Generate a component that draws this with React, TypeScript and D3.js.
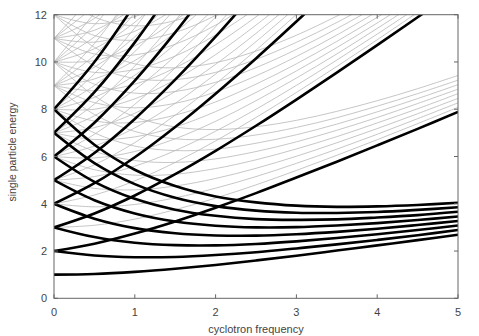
import React from "react";
import * as d3 from "d3";

// cyclotron frequency sample points
const freqs = [0, 0.5, 1, 1.5, 2, 2.5, 3, 3.5, 4, 4.5, 5];
const xTicks = [0, 1, 2, 3, 4, 5];
const yTicks = [0, 2, 4, 6, 8, 10, 12];

// lowest radial level (thick lines), energies read at the sample frequencies
const thickLevels: number[][] = [
  [1, 1.03, 1.12, 1.25, 1.41, 1.6, 1.8, 2.02, 2.24, 2.46, 2.69],
  [2, 1.81, 1.74, 1.75, 1.83, 1.95, 2.11, 2.28, 2.47, 2.67, 2.89],
  [3, 2.59, 2.35, 2.25, 2.24, 2.3, 2.41, 2.55, 2.71, 2.89, 3.08],
  [4, 3.37, 2.97, 2.75, 2.66, 2.65, 2.71, 2.81, 2.94, 3.1, 3.27],
  [5, 4.15, 3.59, 3.25, 3.07, 3.0, 3.01, 3.08, 3.18, 3.31, 3.46],
  [6, 4.93, 4.21, 3.75, 3.49, 3.35, 3.32, 3.34, 3.42, 3.52, 3.66],
  [7, 5.72, 4.83, 4.25, 3.9, 3.71, 3.62, 3.61, 3.65, 3.74, 3.85],
  [8, 6.5, 5.44, 4.75, 4.31, 4.06, 3.92, 3.87, 3.89, 3.95, 4.04],
  [2, 2.31, 2.74, 3.25, 3.83, 4.45, 5.11, 5.78, 6.47, 7.17, 7.89],
  [3, 3.59, 4.35, 5.25, 6.24, 7.3, 8.41, 9.55, 10.71, 11.89, 13.08],
  [4, 4.87, 5.97, 7.25, 8.66, 10.15, 11.71, 13.31],
  [5, 6.15, 7.59, 9.25, 11.07, 13.0],
  [6, 7.43, 9.21, 11.25, 13.49],
  [7, 8.72, 10.83, 13.25],
  [8, 10.0, 12.44],
];

// second radial level (thin grey)
const greyLevel1: number[][] = [
  [3, 3.09, 3.35, 3.75, 4.24, 4.8, 5.41, 6.05, 6.71, 7.39, 8.08],
  [4, 3.87, 3.97, 4.25, 4.66, 5.15, 5.71, 6.31, 6.94, 7.6, 8.27],
  [5, 4.65, 4.59, 4.75, 5.07, 5.5, 6.01, 6.58, 7.18, 7.81, 8.46],
  [6, 5.44, 5.21, 5.25, 5.49, 5.86, 6.32, 6.84, 7.42, 8.02, 8.66],
  [7, 6.22, 5.83, 5.75, 5.9, 6.21, 6.62, 7.11, 7.65, 8.24, 8.85],
  [8, 7.0, 6.44, 6.25, 6.31, 6.56, 6.92, 7.37, 7.89, 8.45, 9.04],
  [9, 7.78, 7.06, 6.75, 6.73, 6.91, 7.23, 7.64, 8.13, 8.66, 9.23],
  [10, 8.56, 7.68, 7.25, 7.14, 7.26, 7.53, 7.91, 8.36, 8.87, 9.43],
  [4, 4.37, 4.97, 5.75, 6.66, 7.65, 8.71, 9.81, 10.94, 12.1],
  [5, 5.65, 6.59, 7.75, 9.07, 10.5, 12.01],
  [6, 6.94, 8.21, 9.75, 11.49, 13.36],
  [7, 8.22, 9.83, 11.75, 13.9],
  [8, 9.5, 11.44, 13.75],
  [9, 10.78, 13.06],
  [10, 12.06],
];

// third radial level
const greyLevel2: number[][] = [
  [5, 5.15, 5.59, 6.25, 7.07, 8.0, 9.01, 10.08, 11.18, 12.31],
  [6, 5.94, 6.21, 6.75, 7.49, 8.36, 9.32, 10.34, 11.42, 12.52],
  [7, 6.72, 6.83, 7.25, 7.9, 8.71, 9.62, 10.61, 11.65, 12.74],
  [8, 7.5, 7.44, 7.75, 8.31, 9.06, 9.92, 10.87, 11.89, 12.95],
  [9, 8.28, 8.06, 8.25, 8.73, 9.41, 10.23, 11.14, 12.13],
  [10, 9.06, 8.68, 8.75, 9.14, 9.76, 10.53, 11.41, 12.36],
  [11, 9.84, 9.3, 9.25, 9.56, 10.11, 10.83, 11.67, 12.6],
  [12, 10.62, 9.92, 9.75, 9.97, 10.46, 11.13, 11.94, 12.83],
  [6, 6.44, 7.21, 8.25, 9.49, 10.86, 12.32],
  [7, 7.72, 8.83, 10.25, 11.9, 13.71],
  [8, 9.0, 10.44, 12.25],
  [9, 10.28, 12.06],
  [10, 11.56, 13.68],
  [11, 12.84],
];

// fourth radial level
const greyLevel3: number[][] = [
  [7, 7.22, 7.83, 8.75, 9.9, 11.21, 12.62],
  [8, 8.0, 8.44, 9.25, 10.31, 11.56, 12.92],
  [9, 8.78, 9.06, 9.75, 10.73, 11.91, 13.23],
  [10, 9.56, 9.68, 10.25, 11.14, 12.26],
  [11, 10.34, 10.3, 10.75, 11.56, 12.61],
  [12, 11.12, 10.92, 11.25, 11.97, 12.96],
  [13, 11.9, 11.53, 11.75, 12.39],
  [8, 8.5, 9.44, 10.75, 12.31],
  [9, 9.78, 11.06, 12.75],
  [10, 11.06, 12.68],
  [11, 12.34],
];

// fifth and sixth radial levels
const greyLevel4: number[][] = [
  [9, 9.28, 10.06, 11.25, 12.73],
  [10, 10.06, 10.68, 11.75, 13.14],
  [11, 10.84, 11.3, 12.25],
  [12, 11.62, 11.92, 12.75],
  [10, 10.56, 11.68, 13.25],
  [11, 11.84, 13.3],
];
const greyLevel5: number[][] = [[11, 11.34, 12.3]];

const W = 479;
const H = 336;
const M = { left: 54, right: 458, top: 14.7, bottom: 298.3 };

export default function App() {
  const x = d3.scaleLinear().domain([0, 5]).range([M.left, M.right]);
  const y = d3.scaleLinear().domain([0, 12]).range([M.bottom, M.top]);
  const line = d3
    .line<number>()
    .x((_, i) => x(freqs[i]))
    .y((d) => y(d))
    .curve(d3.curveCatmullRom.alpha(0.5));

  const grey = [
    ...greyLevel1,
    ...greyLevel2,
    ...greyLevel3,
    ...greyLevel4,
    ...greyLevel5,
  ];
  const frame = "#666";
  const textCol = "#444";
  const font = "'Liberation Sans', Arial, Helvetica, sans-serif";
  const tick = 4;

  return (
    <svg
      width={W}
      height={H}
      style={{ position: "absolute", left: 0, top: 0 }}
      fontFamily={font}
    >
      <rect width={W} height={H} fill="#fff" />
      <defs>
        <clipPath id="plot">
          <rect
            x={M.left}
            y={M.top}
            width={M.right - M.left}
            height={M.bottom - M.top}
          />
        </clipPath>
      </defs>
      <g clipPath="url(#plot)">
        {grey.map((s, i) => (
          <path
            key={"g" + i}
            d={line(s) || ""}
            fill="none"
            stroke="#b8b8b8"
            strokeWidth={0.8}
          />
        ))}
        {thickLevels.map((s, i) => (
          <path
            key={"t" + i}
            d={line(s) || ""}
            fill="none"
            stroke="#000"
            strokeWidth={2.6}
          />
        ))}
      </g>
      <rect
        x={M.left}
        y={M.top}
        width={M.right - M.left}
        height={M.bottom - M.top}
        fill="none"
        stroke={frame}
        strokeWidth={1}
      />
      {xTicks.map((t) => (
        <g key={"xt" + t}>
          <line x1={x(t)} x2={x(t)} y1={M.bottom} y2={M.bottom - tick} stroke={frame} />
          <line x1={x(t)} x2={x(t)} y1={M.top} y2={M.top + tick} stroke={frame} />
          <text
            x={x(t)}
            y={316}
            textAnchor="middle"
            fontSize={11}
            fill={textCol}
          >
            {t}
          </text>
        </g>
      ))}
      {yTicks.map((t) => (
        <g key={"yt" + t}>
          <line x1={M.left} x2={M.left + tick} y1={y(t)} y2={y(t)} stroke={frame} />
          <line x1={M.right} x2={M.right - tick} y1={y(t)} y2={y(t)} stroke={frame} />
          <text
            x={47}
            y={y(t) + 4}
            textAnchor="end"
            fontSize={11}
            fill={textCol}
          >
            {t}
          </text>
        </g>
      ))}
      <text
        x={256}
        y={333}
        textAnchor="middle"
        fontSize={11}
        fill={textCol}
      >
        cyclotron frequency
      </text>
      <text
        transform={`translate(16,152) rotate(-90)`}
        textAnchor="middle"
        fontSize={10.5}
        fill={textCol}
      >
        single particle energy
      </text>
    </svg>
  );
}
